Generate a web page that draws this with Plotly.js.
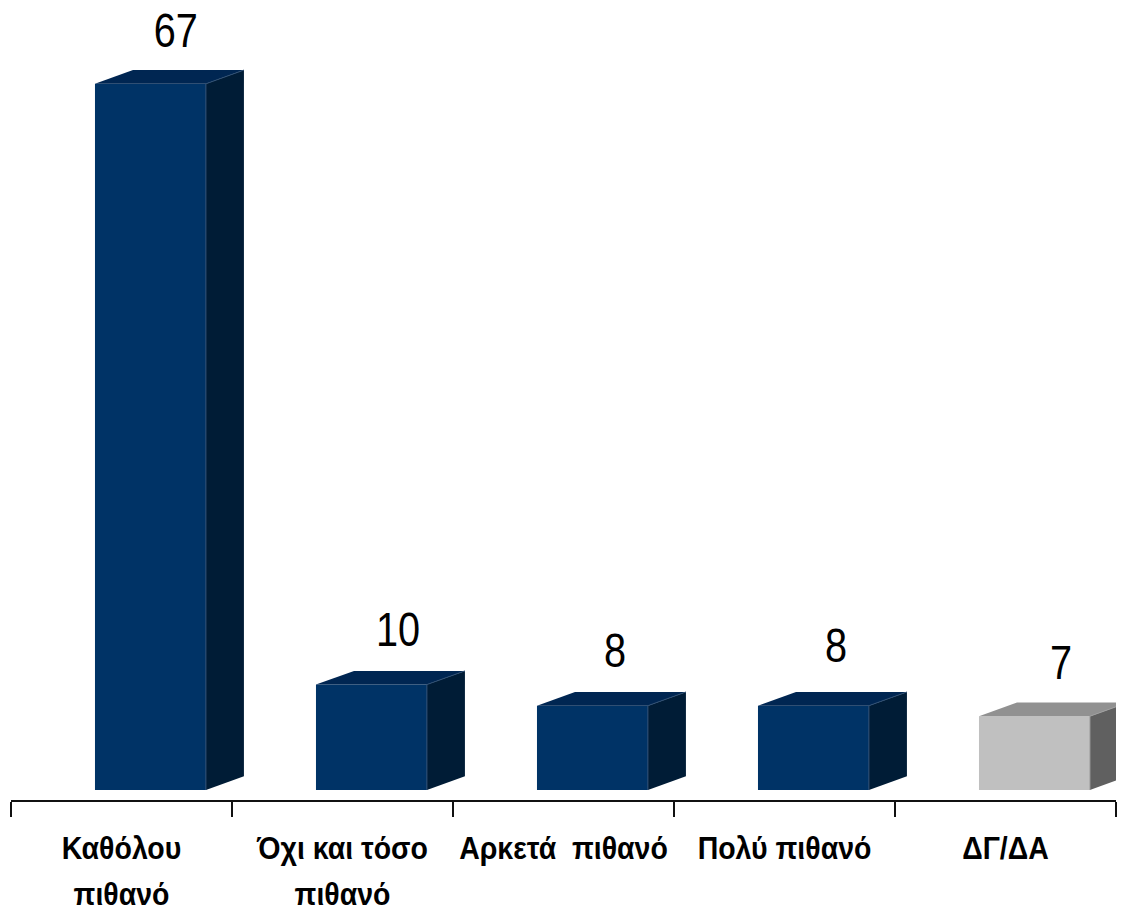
<!DOCTYPE html>
<html><head><meta charset="utf-8">
<script src="https://cdn.plot.ly/plotly-3.0.1.min.js"></script>
<style>html,body{margin:0;padding:0;background:#fff}</style></head>
<body><div id="chart" style="width:1123px;height:906px"></div>
<script>
const labelLine1 = ['Καθόλου', 'Όχι και τόσο', 'Αρκετά\u00a0\u00a0πιθανό', 'Πολύ πιθανό', 'ΔΓ/ΔΑ'];
const labelLine2 = ['πιθανό', 'πιθανό', '', '', ''];
const values = [67, 10, 8, 8, 7];
const frontColors = ['#003366', '#003366', '#003366', '#003366', '#c0c0c0'];
const topColors = ['#002652', '#002652', '#002652', '#002652', '#919191'];
const sideColors = ['#001c36', '#001c36', '#001c36', '#001c36', '#606060'];
const seamColors = ['#2f4f73', '#2f4f73', '#2f4f73', '#2f4f73', '#a0a0a0'];
const labelLift = [4.65, 4.84, 4.84, 5.32, 4.72];
const labelShift = [0.115, 0.12, 0.102, 0.102, 0.12];

const positions = values.map((_, i) => i);
const barShift = 0.131, barWidth = 0.502, depthX = 0.172, depthY = 1.3;
const traces = [];
values.forEach((v, i) => {
  const l = i + barShift - barWidth / 2, r = l + barWidth;
  traces.push({type:'scatter', mode:'lines', x:[l, l+depthX, r+depthX, r, l], y:[v, v+depthY, v+depthY, v, v],
    fill:'toself', fillcolor:topColors[i], line:{width:0}, hoverinfo:'skip'});
  traces.push({type:'scatter', mode:'lines', x:[r, r+depthX, r+depthX, r, r], y:[0, depthY, v+depthY, v, 0],
    fill:'toself', fillcolor:sideColors[i], line:{width:0}, hoverinfo:'skip'});
  traces.push({type:'scatter', mode:'lines', x:[r+depthX, r, r], y:[v+depthY, v, 0],
    line:{width:1, color:seamColors[i]}, hoverinfo:'skip'});
});
traces.push({type:'bar', x:positions, y:values, width:barWidth, offset:barShift - barWidth/2,
  marker:{color:frontColors, line:{width:0}}, hoverinfo:'skip'});
traces.push({type:'scatter', mode:'text', x:positions.map((p,i)=>p+barShift+labelShift[i]),
  y:values.map((v,i)=>v+labelLift[i]), text:values.map(String), textposition:'middle center',
  textfont:{family:'"Liberation Sans", Arial, sans-serif', size:49, color:'#000'}, hoverinfo:'skip', cliponaxis:false});
traces.push({type:'scatter', x:positions, y:positions.map(()=>0), xaxis:'x2', mode:'none', hoverinfo:'skip'});
traces.push({type:'scatter', x:positions, y:positions.map(()=>0), xaxis:'x3', mode:'none', hoverinfo:'skip'});

const range = [-0.5, 4.5];
const tickFont = {family:'"Liberation Sans", Arial, sans-serif', size:32, color:'#000', weight:700};
const layout = {
  width:1123, height:906, showlegend:false, paper_bgcolor:'#fff', plot_bgcolor:'#fff',
  margin:{l:11, r:7, t:0, b:106}, barmode:'overlay',
  xaxis:{range, tickmode:'array', tickvals:[-0.5,0.5,1.5,2.5,3.5,4.5], ticktext:['','','','','',''],
    ticks:'outside', ticklen:15, tickwidth:2, tickcolor:'#111', showline:true, linecolor:'#111', linewidth:2,
    showgrid:false, zeroline:false},
  xaxis2:{range, overlaying:'x', anchor:'y', tickmode:'array', tickvals:positions, ticktext:labelLine1,
    ticks:'', showline:false, showgrid:false, zeroline:false, tickfont:tickFont, ticklabelstandoff:26},
  xaxis3:{range, overlaying:'x', anchor:'y', tickmode:'array', tickvals:positions, ticktext:labelLine2,
    ticks:'', showline:false, showgrid:false, zeroline:false, tickfont:tickFont, ticklabelstandoff:72},
  yaxis:{range:[-0.949, 74.95], visible:false, showgrid:false, zeroline:false}
};
// The reference text is condensed: squeeze the real text glyphs horizontally.
function squeeze(selector, factor) {
  document.querySelectorAll(selector).forEach(t => {
    const w = t.getComputedTextLength();
    if (w > 0) { t.setAttribute('textLength', w * factor); t.setAttribute('lengthAdjust', 'spacingAndGlyphs'); }
  });
}
Plotly.newPlot('chart', traces, layout, {displayModeBar:false, staticPlot:true}).then(() => {
  squeeze('.textpoint text', 0.81);
  squeeze('.x2tick text, .x3tick text', 0.89);
});
</script></body></html>
